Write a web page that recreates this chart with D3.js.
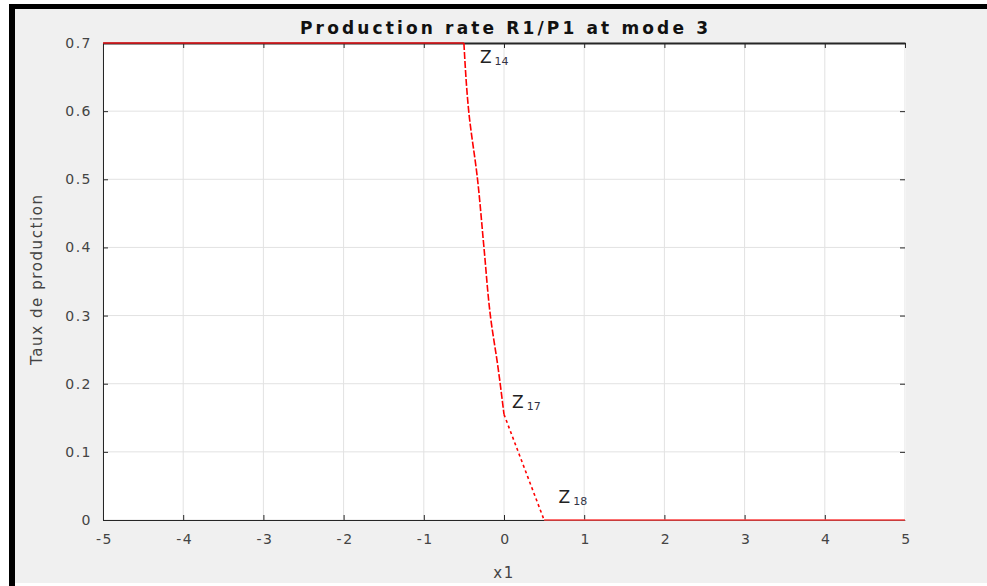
<!DOCTYPE html>
<html><head><meta charset="utf-8">
<script src="https://cdn.jsdelivr.net/npm/d3@7"></script>
<style>body{margin:0;background:#fff;}svg{display:block;font-family:"DejaVu Sans",Arial,sans-serif;}</style>
</head><body>
<svg id="c" width="987" height="586"></svg>
<script>
const xTicks = [-5,-4,-3,-2,-1,0,1,2,3,4,5];
const yTicks = [0,0.1,0.2,0.3,0.4,0.5,0.6,0.7];
const flatLeft = [[-5,0.7],[-0.5,0.7]];
const descent = [[-0.5,0.7],[-0.44,0.6],[-0.33,0.5],[-0.25,0.4],[-0.17,0.3],[-0.07,0.22],[0,0.155]];
const tail = [[0,0.155],[0.5,0]];
const flatRight = [[0.5,0],[5,0]];
const labels = [{z:"Z",sub:"14",x:-0.3,y:0.67},{z:"Z",sub:"17",x:0.1,y:0.165},{z:"Z",sub:"18",x:0.68,y:0.025}];

const svg = d3.select("#c");
// frame
svg.append("rect").attr("x",9).attr("y",4).attr("width",978).attr("height",582).attr("fill","#000");
svg.append("rect").attr("x",15).attr("y",9).attr("width",972).attr("height",574).attr("fill","#f0f0f0");
svg.append("rect").attr("x",15).attr("y",583).attr("width",972).attr("height",3).attr("fill","#fff");

const L=103,R=905,T=43,B=520;
const x = d3.scaleLinear().domain([-5,5]).range([L,R]);
const y = d3.scaleLinear().domain([0,0.7]).range([B,T]);

svg.append("rect").attr("x",L).attr("y",T).attr("width",R-L).attr("height",B-T).attr("fill","#fff");

// grid
const g = svg.append("g");
g.selectAll("line.vx").data(xTicks).join("line").attr("x1",d=>x(d)).attr("x2",d=>x(d)).attr("y1",T).attr("y2",B).attr("stroke","#e2e2e2").attr("stroke-width",1);
g.selectAll("line.hy").data(yTicks).join("line").attr("y1",d=>y(d)).attr("y2",d=>y(d)).attr("x1",L).attr("x2",R).attr("stroke","#e2e2e2").attr("stroke-width",1);

// axes
const ax = svg.append("g").attr("transform",`translate(0,${B})`).call(d3.axisBottom(x).tickValues(xTicks).tickSizeInner(-5).tickSizeOuter(0).tickPadding(14).tickFormat(d=>String(d)));
const ay = svg.append("g").attr("transform",`translate(${L},0)`).call(d3.axisLeft(y).tickValues(yTicks).tickSizeInner(-5).tickSizeOuter(0).tickPadding(11).tickFormat(d=>d===0?"0":d3.format(".1f")(d)));
const ayr = svg.append("g").attr("transform",`translate(${R},0)`).call(d3.axisRight(y).tickValues(yTicks).tickSizeInner(-5).tickSizeOuter(0).tickFormat(""));
const axt = svg.append("g").attr("transform",`translate(0,${T})`).call(d3.axisTop(x).tickValues(xTicks).tickSizeInner(-5).tickSizeOuter(0).tickFormat(""));
[ax,ay,ayr,axt].forEach(a=>{a.select(".domain").attr("stroke","#262626");a.selectAll(".tick line").attr("stroke","#262626");a.selectAll("text").attr("fill","#444").attr("font-size",14).attr("font-family","DejaVu Sans").attr("letter-spacing",1.5);});
ax.selectAll("text").attr("dx",1);
axt.select(".domain").attr("stroke-width",2);
ayr.select(".domain").attr("stroke","#f4f4f4");

// lines
const line = d3.line().x(d=>x(d[0])).y(d=>y(d[1]));
svg.append("path").datum(flatLeft).attr("d",line).attr("fill","none").attr("stroke","#e8141a").attr("stroke-width",1.6);
svg.append("path").datum(descent).attr("d",d3.line().x(d=>x(d[0])).y(d=>y(d[1])).curve(d3.curveMonotoneY)).attr("fill","none").attr("stroke","#f00").attr("stroke-width",1.6).attr("stroke-dasharray","7,2");
svg.append("path").datum(tail).attr("d",line).attr("fill","none").attr("stroke","#f00").attr("stroke-width",1.6).attr("stroke-dasharray","3,3");
svg.append("path").datum(flatRight).attr("d",line).attr("fill","none").attr("stroke","#f44").attr("stroke-width",1.6);

// annotations
labels.forEach(l=>{
  const t = svg.append("text").attr("x",x(l.x)).attr("y",y(l.y)).attr("font-size",17).attr("fill","#222");
  t.append("tspan").text(l.z);
  t.append("tspan").attr("font-size",11).attr("dx",3).attr("dy",2).attr("fill","#334").text(l.sub);
});

// title & labels
svg.append("text").attr("x",504).attr("y",34).attr("text-anchor","middle").attr("font-size",17).attr("font-weight","bold").attr("fill","#111")
  .attr("textLength",408).attr("lengthAdjust","spacing").text("Production rate R1/P1 at mode 3");
svg.append("text").attr("x",504).attr("y",578).attr("text-anchor","middle").attr("font-size",15).attr("letter-spacing",1.5).attr("fill","#444").text("x1");
svg.append("text").attr("transform","translate(42,280) rotate(-90)").attr("text-anchor","middle").attr("font-size",15).attr("fill","#444")
  .attr("textLength",170).attr("lengthAdjust","spacing").text("Taux de production");
</script>
</body></html>
